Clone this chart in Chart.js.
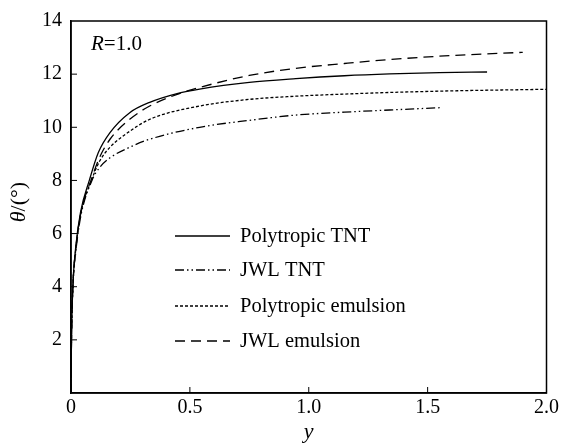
<!DOCTYPE html>
<html>
<head>
<meta charset="utf-8">
<script src="https://cdn.jsdelivr.net/npm/chart.js@4.4.0/dist/chart.umd.min.js"></script>
<style>
  html, body { margin: 0; padding: 0; background: #fff; }
  #wrap { width: 562px; height: 445px; }
</style>
</head>
<body>
<div id="wrap"><canvas id="c" width="562" height="445"></canvas></div>
<script>
// series data
const ptntX = [0, 0.002, 0.008, 0.02, 0.04, 0.077, 0.115, 0.164, 0.247, 0.331, 0.45, 0.541, 0.75, 0.946, 1.15, 1.34, 1.55, 1.75];
const ptntY = [0, 2, 4, 5.5, 6.8, 8, 9.05, 9.8, 10.55, 10.94, 11.28, 11.44, 11.69, 11.83, 11.94, 12.01, 12.06, 12.08];

const jtntX = [0, 0.002, 0.008, 0.02, 0.04, 0.088, 0.122, 0.164, 0.247, 0.331, 0.541, 0.75, 0.946, 1.15, 1.34, 1.56];
const jtntY = [0, 2, 4, 5.3, 6.6, 8, 8.5, 8.85, 9.25, 9.55, 10.0, 10.26, 10.46, 10.57, 10.65, 10.74];

const pemX = [0, 0.002, 0.008, 0.02, 0.04, 0.088, 0.122, 0.164, 0.247, 0.331, 0.541, 0.75, 0.946, 1.15, 1.34, 1.6, 2.0];
const pemY = [0, 2, 4, 5.4, 6.7, 8.05, 8.75, 9.25, 9.85, 10.3, 10.8, 11.05, 11.17, 11.25, 11.31, 11.37, 11.43];

const jemX = [0, 0.002, 0.008, 0.02, 0.04, 0.088, 0.122, 0.164, 0.247, 0.331, 0.45, 0.541, 0.75, 0.946, 1.15, 1.34, 1.6, 1.9];
const jemY = [0, 2, 4, 5.4, 6.7, 8.1, 8.9, 9.55, 10.3, 10.8, 11.25, 11.5, 11.95, 12.22, 12.4, 12.55, 12.7, 12.82];

const seriesNames = ['Polytropic TNT', 'JWL TNT', 'Polytropic emulsion', 'JWL emulsion'];
const xTicks = [0, 0.5, 1.0, 1.5, 2.0];
const yTicks = [0, 2, 4, 6, 8, 10, 12, 14];

const SERIF = '"Liberation Serif", "DejaVu Serif", serif';

function pts(xs, ys) { return xs.map((x, i) => ({x: x, y: ys[i]})); }

const dashes = [[], [9, 3, 1.5, 3, 1.5, 3], [3, 2], [10, 6]];

const datasets = [
  [ptntX, ptntY], [jtntX, jtntY], [pemX, pemY], [jemX, jemY]
].map((s, i) => ({
  label: seriesNames[i],
  data: pts(s[0], s[1]),
  borderColor: '#000',
  borderWidth: 1.3,
  borderDash: dashes[i],
  pointRadius: 0,
  fill: false,
  cubicInterpolationMode: 'monotone'
}));

// frame, inward ticks, legend and annotations
const decor = {
  id: 'decor',
  afterDraw(chart) {
    const ctx = chart.ctx, a = chart.chartArea;
    const xs = chart.scales.x, ys = chart.scales.y;
    ctx.save();
    ctx.strokeStyle = '#000';
    ctx.lineWidth = 1.5;
    ctx.strokeRect(a.left, a.top, a.right - a.left, a.bottom - a.top);
    ctx.lineWidth = 1;
    ctx.beginPath();
    xTicks.forEach(v => {
      const px = xs.getPixelForValue(v);
      if (v > 0 && v < 2) { ctx.moveTo(px, a.bottom); ctx.lineTo(px, a.bottom - 6); }
    });
    yTicks.forEach(v => {
      const py = ys.getPixelForValue(v);
      if (v > 0 && v < 14) { ctx.moveTo(a.left, py); ctx.lineTo(a.left + 6, py); }
    });
    ctx.stroke();

    // legend inside the plot
    ctx.font = '20.5px ' + SERIF;
    ctx.fillStyle = '#000';
    ctx.textBaseline = 'middle';
    const ly = [236, 270, 306, 341];
    chart.data.datasets.forEach((ds, i) => {
      ctx.beginPath();
      ctx.setLineDash(ds.borderDash);
      ctx.lineWidth = 1.3;
      ctx.moveTo(175, ly[i]);
      ctx.lineTo(230, ly[i]);
      ctx.stroke();
      ctx.setLineDash([]);
      ctx.fillText(ds.label, 240, ly[i] + 1);
    });

    // R=1.0
    ctx.font = 'italic 21px ' + SERIF;
    ctx.fillText('R', 91, 44);
    const rw = ctx.measureText('R').width;
    ctx.font = '21px ' + SERIF;
    ctx.fillText('=1.0', 91 + rw, 44);

    // y axis title θ/(°)
    ctx.translate(19, 202);
    ctx.rotate(-Math.PI / 2);
    ctx.font = 'italic 22px ' + SERIF;
    const tw = ctx.measureText('θ').width;
    ctx.font = '22px ' + SERIF;
    const rest = '/(°)';
    const total = tw + ctx.measureText(rest).width;
    ctx.font = 'italic 22px ' + SERIF;
    ctx.fillText('θ', -total / 2, 0);
    ctx.font = '22px ' + SERIF;
    ctx.fillText(rest, -total / 2 + tw, 0);
    ctx.restore();
  }
};

new Chart(document.getElementById('c'), {
  type: 'line',
  data: { datasets: datasets },
  options: {
    responsive: false,
    animation: false,
    layout: { padding: { top: 16, right: 14, left: 0, bottom: 0 } },
    plugins: { legend: { display: false }, tooltip: { enabled: false } },
    scales: {
      x: {
        type: 'linear',
        min: 0, max: 2,
        grid: { display: false, drawTicks: false },
        border: { display: true, color: '#000', width: 1.5 },
        afterBuildTicks(s) { s.ticks = xTicks.map(v => ({value: v})); },
        afterFit(s) { s.height = 52; },
        ticks: {
          color: '#000', padding: 3,
          font: { family: SERIF, size: 20 },
          maxRotation: 0,
          callback: v => v === 0 ? '0' : v.toFixed(1)
        },
        title: {
          display: true, text: 'y', color: '#000',
          font: { family: SERIF, size: 22, style: 'italic' },
          padding: { top: 0, bottom: 0 }
        }
      },
      y: {
        min: 0, max: 14,
        grid: { display: false, drawTicks: false },
        border: { display: true, color: '#000', width: 1.5 },
        afterBuildTicks(s) { s.ticks = yTicks.map(v => ({value: v})); },
        afterFit(s) { s.width = 71; },
        ticks: {
          color: '#000', padding: 9,
          font: { family: SERIF, size: 20 },
          callback: v => v === 0 ? '' : String(v)
        }
      }
    }
  },
  plugins: [decor]
});
</script>
</body>
</html>
